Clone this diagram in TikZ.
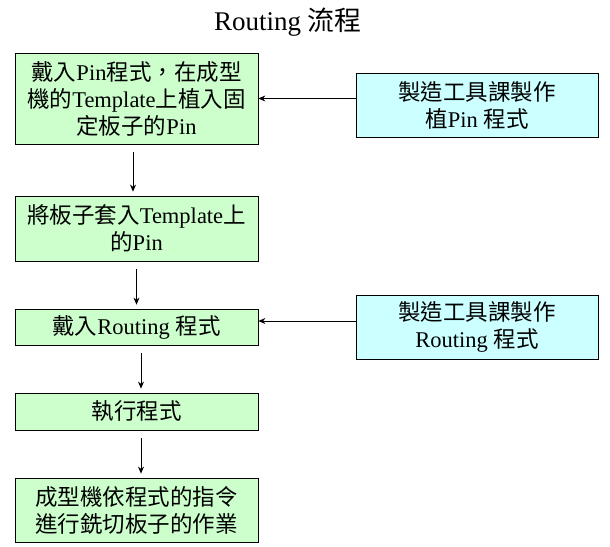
\documentclass[tikz,border=0pt]{standalone}
\usepackage{fontspec}
\setmainfont{Liberation Serif}
\newfontfamily\cjk{Noto Sans CJK TC}
\usetikzlibrary{arrows.meta}
\definecolor{boxgreen}{RGB}{204,255,204}
\definecolor{boxblue}{RGB}{204,255,255}
\newcommand{\zh}[1]{{\cjk #1}}
\begin{document}
\begin{tikzpicture}[x=1pt,y=-1pt,
	greenbox/.style={draw=black,line width=0.8pt,fill=boxgreen,minimum width=243pt,inner sep=0pt,align=center,font=\fontsize{22.5}{27}\selectfont},
	bluebox/.style={greenbox,fill=boxblue,minimum width=242pt,minimum height=64pt},
	flow/.style={-{Stealth[length=7pt,width=6pt]},line width=0.8pt,shorten <=8pt,shorten >=4pt}]
		\useasboundingbox (0,0) rectangle (610,546);
		\node (title) at (288,22) {\fontsize{27}{32}\selectfont Routing \zh{流程}};
		% left column
		\node[greenbox,minimum height=91pt] (loadpin) at (136.5,98.5) {\zh{戴入}Pin\zh{程式，在成型}\\\zh{機的}Template\zh{上植入固}\\\zh{定板子的}Pin};
		\node[greenbox,minimum height=65pt] (mount) at (136.5,228.5) {\zh{將板子套入}Template\zh{上}\\\zh{的}Pin};
		\node[greenbox,minimum height=36pt] (loadroute) at (136.5,327) {\zh{戴入}Routing \zh{程式}};
		\node[greenbox,minimum height=37pt] (run) at (136.5,411.5) {\zh{執行程式}};
		\node[greenbox,minimum height=64pt] (cut) at (136.5,510) {\zh{成型機依程式的指令}\\\zh{進行銑切板子的作業}};
		% right column
		\node[bluebox] (pinprog) at (477,105) {\zh{製造工具課製作}\\\zh{植}Pin \zh{程式}};
		\node[bluebox] (routeprog) at (477,327) {\zh{製造工具課製作}\\Routing \zh{程式}};
		\coordinate (routein) at ([yshift=6pt]loadroute.east);
		\draw[flow] ([xshift=-3.5pt]loadpin.south) -- ([xshift=-3.5pt]mount.north);
		\draw[flow] (mount.south) -- (loadroute.north);
		\draw[flow] ([xshift=4.5pt]loadroute.south) -- ([xshift=4.5pt]run.north);
		\draw[flow] ([xshift=4.5pt]run.south) -- ([xshift=4.5pt]cut.north);
		\draw[flow,shorten <=0pt,shorten >=0pt] (pinprog.west |- loadpin.east) -- (loadpin.east);
		\draw[flow,shorten <=0pt,shorten >=0pt] (routeprog.west |- routein) -- (routein);
	\end{tikzpicture}
\end{document}
